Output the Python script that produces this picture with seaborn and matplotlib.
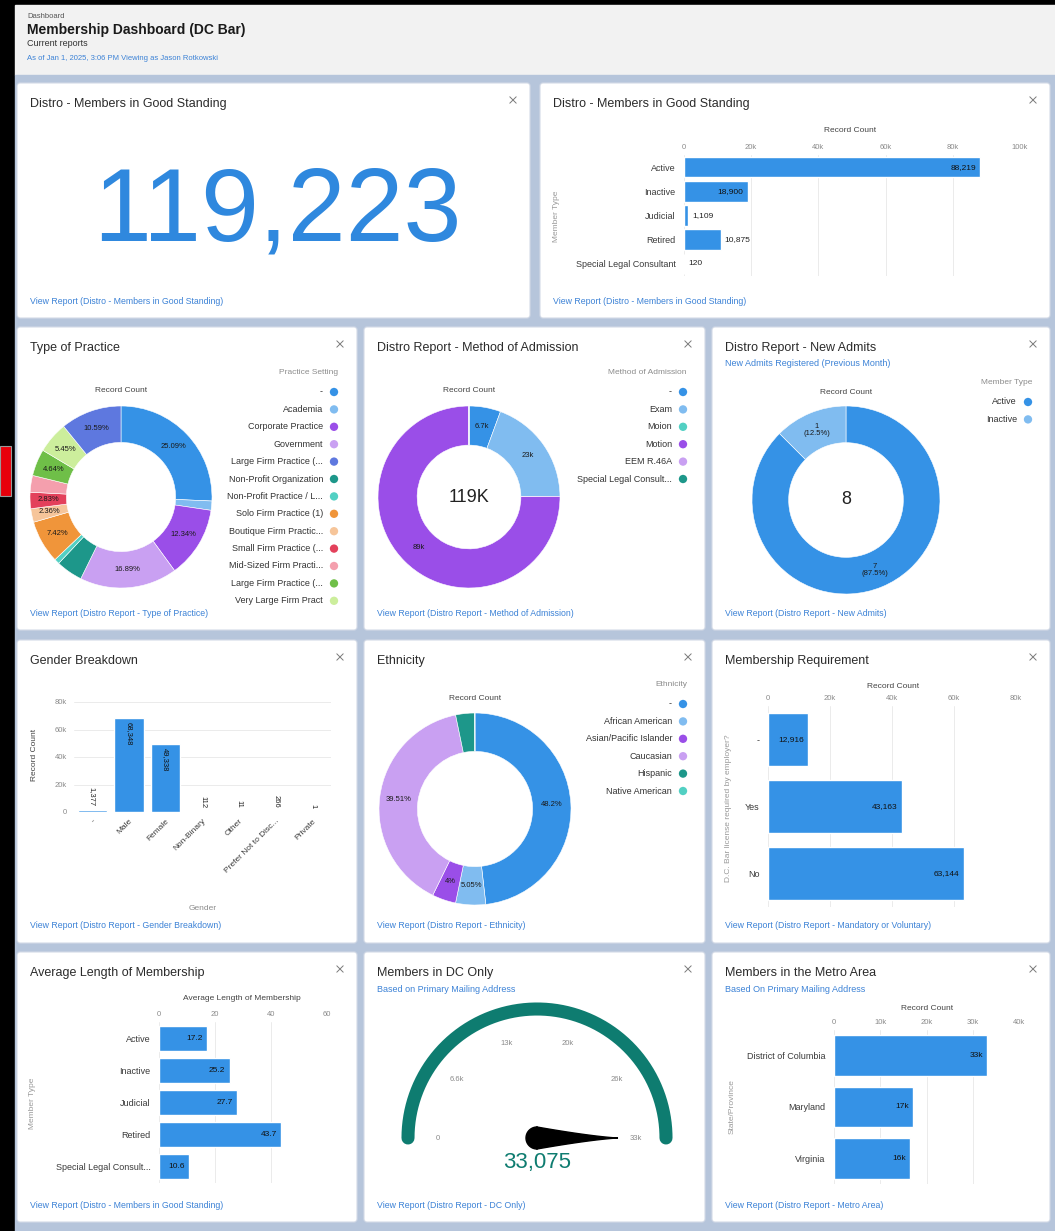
import numpy as np
import matplotlib
matplotlib.use("Agg")
import matplotlib.pyplot as plt
from matplotlib.patches import Rectangle, FancyBboxPatch, Polygon
import seaborn as sns

W, H = 1055, 1231

# ---------------- data ----------------
good_standing_total = 119223

member_types = ["Active", "Inactive", "Judicial", "Retired", "Special Legal Consultant"]
member_counts = [88219, 18900, 1109, 10875, 120]

practice_settings = ["-", "Academia", "Corporate Practice", "Government", "Large Firm Practice (...",
                     "Non-Profit Organization", "Non-Profit Practice / L...", "Solo Firm Practice (1)",
                     "Boutique Firm Practic...", "Small Firm Practice (...", "Mid-Sized Firm Practi...",
                     "Large Firm Practice (...", "Very Large Firm Pract"]
practice_pct = [25.09, 1.6, 12.34, 16.89, 10.59, 4.6, 0.9, 7.42, 2.36, 2.83, 2.9, 4.64, 5.45]
practice_labels = ["25.09%", "", "12.34%", "16.89%", "10.59%", "", "", "7.42%", "2.36%", "2.83%", "",
                   "4.64%", "5.45%"]
practice_pie_order = [0, 1, 2, 3, 5, 6, 7, 8, 9, 10, 11, 12, 4]

admission_methods = ["-", "Exam", "Moion", "Motion", "EEM R.46A", "Special Legal Consult..."]
admission_counts = [6700, 23000, 4, 89500, 12, 7]
admission_labels = ["6.7k", "23k", "", "89k", "", ""]
admission_center = "119K"

new_admit_types = ["Active", "Inactive"]
new_admit_counts = [7, 1]
new_admit_labels = ["7\n(87.5%)", "1\n(12.5%)"]

genders = ["-", "Male", "Female", "Non-Binary", "Other", "Prefer Not to Disc...", "Private"]
gender_counts = [1377, 68348, 49338, 112, 11, 266, 1]

ethnicities = ["-", "African American", "Asian/Pacific Islander", "Caucasian", "Hispanic", "Native American"]
ethnicity_pct = [48.2, 5.05, 4.0, 39.51, 3.2, 0.04]
ethnicity_labels = ["48.2%", "5.05%", "4%", "39.51%", "", ""]

requirement = ["-", "Yes", "No"]
requirement_counts = [12916, 43163, 63144]

avg_types = ["Active", "Inactive", "Judicial", "Retired", "Special Legal Consult..."]
avg_years = [17.2, 25.2, 27.7, 43.7, 10.6]

dc_members = 33075
gauge_max = 33075
gauge_tick_labels = ["0", "6.6k", "13k", "20k", "26k", "33k"]

metro_states = ["District of Columbia", "Maryland", "Virginia"]
metro_counts = [33075, 17100, 16400]
metro_labels = ["33k", "17k", "16k"]

# ---------------- style ----------------
BLUE = "#3592e6"
BIG_BLUE = "#2f88de"
LBLUE = "#80bcf0"
PURPLE = "#9a4ee8"
LPURPLE = "#c9a0f2"
PERI = "#5e78df"
DTEAL = "#1d978a"
LTEAL = "#52d0c3"
TEAL = "#0e7c70"
LINK = "#3c82d6"
GRAY = "#8a8a8a"

practice_colors = [BLUE, LBLUE, PURPLE, LPURPLE, PERI, DTEAL, LTEAL, "#f0953a", "#f6c59a",
                   "#e3415b", "#f49fad", "#6fbf48", "#ccee9c"]
admission_colors = [BLUE, LBLUE, LTEAL, PURPLE, LPURPLE, DTEAL]
ethnicity_colors = [BLUE, LBLUE, PURPLE, LPURPLE, DTEAL, LTEAL]
new_admit_colors = [BLUE, LBLUE]

sns.set_theme(style="white")
plt.rcParams['font.family'] = ['Liberation Sans', 'DejaVu Sans']

fig = plt.figure(figsize=(W / 100, H / 100), dpi=100, facecolor='black')
bg = fig.add_axes([0, 0, 1, 1])
bg.set_xlim(0, W)
bg.set_ylim(H, 0)
bg.axis('off')


def px_axes(x0, y0, x1, y1):
    return fig.add_axes([x0 / W, 1 - y1 / H, (x1 - x0) / W, (y1 - y0) / H])


def txt(x, y, s, size=6, color='#333333', ha='left', va='center', **kw):
    bg.text(x, y, s, fontsize=size, color=color, ha=ha, va=va, **kw)


# background, header
bg.add_patch(Rectangle((0, 0), W, H, color='black'))
bg.add_patch(Rectangle((15, 5), W - 15, 70, color='#f2f2f2'))
bg.add_patch(Rectangle((15, 75), W - 15, H - 75, color='#b6c5db'))
bg.add_patch(Rectangle((0, 446), 11, 50, facecolor='#e8000b', edgecolor='#999999', lw=0.8))

txt(27, 16, "Dashboard", 5.5, '#555555')
txt(27, 30, "Membership Dashboard (DC Bar)", 10, '#1a1a1a', weight='bold')
txt(27, 44, "Current reports", 6.5, '#333333')
txt(27, 59, "As of Jan 1, 2025, 3:06 PM Viewing as Jason Rotkowski", 5.5, LINK)

panels = [(17, 83, 530, 318), (540, 83, 1050, 318),
          (17, 327, 357, 630), (364, 327, 705, 630), (712, 327, 1050, 630),
          (17, 640, 357, 943), (364, 640, 705, 943), (712, 640, 1050, 943),
          (17, 952, 357, 1222), (364, 952, 705, 1222), (712, 952, 1050, 1222)]
panel_titles = ["Distro - Members in Good Standing", "Distro - Members in Good Standing",
                "Type of Practice", "Distro Report - Method of Admission", "Distro Report - New Admits",
                "Gender Breakdown", "Ethnicity", "Membership Requirement",
                "Average Length of Membership", "Members in DC Only", "Members in the Metro Area"]
panel_links = ["View Report (Distro - Members in Good Standing)",
               "View Report (Distro - Members in Good Standing)",
               "View Report (Distro Report - Type of Practice)",
               "View Report (Distro Report - Method of Admission)",
               "View Report (Distro Report - New Admits)",
               "View Report (Distro Report - Gender Breakdown)",
               "View Report (Distro Report - Ethnicity)",
               "View Report (Distro Report - Mandatory or Voluntary)",
               "View Report (Distro - Members in Good Standing)",
               "View Report (Distro Report - DC Only)",
               "View Report (Distro Report - Metro Area)"]
panel_subtitles = {4: "New Admits Registered (Previous Month)",
                   9: "Based on Primary Mailing Address",
                   10: "Based On Primary Mailing Address"}

for i, (x0, y0, x1, y1) in enumerate(panels):
    bg.add_patch(FancyBboxPatch((x0, y0), x1 - x0, y1 - y0, boxstyle="round,pad=0,rounding_size=3",
                                facecolor='white', edgecolor='#d3dae6', lw=0.8))
    txt(x0 + 13, y0 + 21, panel_titles[i], 9, '#2b2b2b')
    txt(x0 + 13, y1 - 17, panel_links[i], 6.3, LINK)
    if i in panel_subtitles:
        txt(x0 + 13, y0 + 37, panel_subtitles[i], 6.5, LINK)
    # expand icon
    cx, cy, s = x1 - 17, y0 + 17, 3.2
    bg.plot([cx - s, cx + s], [cy - s, cy + s], color='#7a7a7a', lw=0.7)
    bg.plot([cx - s, cx + s], [cy + s, cy - s], color='#7a7a7a', lw=0.7)

# ---------- A: big number ----------
txt(277, 240, f"{good_standing_total:,}", 75, BIG_BLUE, ha='center', va='baseline')


# ---------- helpers ----------
def style_hbar(ax, ticks, ticklabels, tick_pad=3):
    ax.set_xlim(ticks[0], ticks[-1])
    ax.set_xticks(ticks)
    ax.set_xticklabels(ticklabels)
    ax.xaxis.tick_top()
    ax.tick_params(axis='x', length=0, pad=tick_pad, labelsize=5.5, labelcolor=GRAY)
    ax.tick_params(axis='y', length=0, pad=6, labelsize=6.5, labelcolor='#3a3a3a')
    ax.grid(axis='x', color='#ebebeb', lw=0.7)
    ax.grid(axis='y', visible=False)
    ax.set_axisbelow(True)
    ax.set_facecolor('none')
    for sp in ax.spines.values():
        sp.set_visible(False)
    ax.set_xlabel('')
    ax.set_ylabel('')


def hbar(rect, cats, vals, ticks, ticklabels, width, labels=None, inside_min=0.15, tick_pad=3):
    ax = px_axes(*rect)
    sns.barplot(x=vals, y=cats, orient='h', color=BLUE, saturation=1, width=width, ax=ax)
    style_hbar(ax, ticks, ticklabels, tick_pad)
    for i, (p, v) in enumerate(zip(ax.patches, vals)):
        s = labels[i] if labels else f"{v:,}"
        yc = p.get_y() + p.get_height() / 2
        if v >= inside_min * ticks[-1]:
            ax.annotate(s, (p.get_width(), yc), xytext=(-3, 0), textcoords='offset points',
                        ha='right', va='center', fontsize=6, color='#111111')
        else:
            ax.annotate(s, (p.get_width(), yc), xytext=(3, 0), textcoords='offset points',
                        ha='left', va='center', fontsize=6, color='#222222')
    return ax


def donut(cx, cy, r, values, colors, ring, labels, order=None):
    ax = px_axes(cx - 1.02 * r, cy - 1.02 * r, cx + 1.02 * r, cy + 1.02 * r)
    idx = order if order is not None else list(range(len(values)))
    wedges, _ = ax.pie([values[k] for k in idx], colors=[colors[k] for k in idx], startangle=90,
                       counterclock=False, wedgeprops=dict(width=ring, edgecolor='white', linewidth=0.4))
    ax.set_xlim(-1.02, 1.02)
    ax.set_ylim(-1.02, 1.02)
    rm = 1 - ring / 2
    for w, k in zip(wedges, idx):
        if labels[k]:
            a = np.deg2rad((w.theta1 + w.theta2) / 2)
            ax.text(rm * np.cos(a), rm * np.sin(a), labels[k], ha='center', va='center',
                    fontsize=5.5, color='#1a1a1a', linespacing=1.0)
    return ax


def pie_legend(title, x_dot, y_title, y0, names, colors, dy=17.4):
    txt(x_dot + 4, y_title, title, 6, '#8c8c8c', ha='right')
    for i, (n, c) in enumerate(zip(names, colors)):
        y = y0 + i * dy
        txt(x_dot - 11, y, n, 6.5, '#333333', ha='right')
        bg.scatter([x_dot], [y], s=36, color=c, edgecolors='none')


# ---------- B: members in good standing bars ----------
hbar((684, 155, 1020, 276), member_types, member_counts,
     [0, 20000, 40000, 60000, 80000, 100000], ["0", "20k", "40k", "60k", "80k", "100k"], 0.85)
txt(850, 130, "Record Count", 6, '#444444', ha='center')
txt(557, 216, "Member Type", 6, '#9a9a9a', ha='center', rotation=90)

# ---------- C: type of practice ----------
donut(121, 497, 91, practice_pct, practice_colors, 0.40, practice_labels, practice_pie_order)
txt(121, 391, "Record Count", 6, '#444444', ha='center')
pie_legend("Practice Setting", 334, 373, 392, practice_settings, practice_colors)

# ---------- D: method of admission ----------
axd = donut(469, 497, 91, admission_counts, admission_colors, 0.43, admission_labels)
axd.text(0, 0, admission_center, ha='center', va='center', fontsize=13, color='#222222')
txt(469, 391, "Record Count", 6, '#444444', ha='center')
pie_legend("Method of Admission", 683, 373, 392, admission_methods, admission_colors)

# ---------- E: new admits ----------
axe = donut(846, 500, 94, new_admit_counts, new_admit_colors, 0.39, new_admit_labels)
axe.text(0, 0, f"{sum(new_admit_counts)}", ha='center', va='center', fontsize=13, color='#222222')
txt(846, 393, "Record Count", 6, '#444444', ha='center')
pie_legend("Member Type", 1028, 382, 402, new_admit_types, new_admit_colors)

# ---------- F: gender ----------
axf = px_axes(74, 702, 331, 812)
sns.barplot(x=genders, y=gender_counts, color=BLUE, saturation=1, width=0.8, ax=axf)
axf.set_ylim(0, 80000)
axf.set_yticks([0, 20000, 40000, 60000, 80000])
axf.set_yticklabels(["0", "20k", "40k", "60k", "80k"])
axf.set_xticks(range(len(genders)))
axf.set_xticklabels(genders, rotation=45, ha='right', rotation_mode='anchor')
axf.tick_params(axis='y', length=0, pad=5, labelsize=5.5, labelcolor=GRAY)
axf.tick_params(axis='x', length=0, pad=4, labelsize=6, labelcolor='#3a3a3a')
axf.grid(axis='y', color='#ebebeb', lw=0.7)
axf.grid(axis='x', visible=False)
axf.set_axisbelow(True)
axf.set_facecolor('none')
for sp in axf.spines.values():
    sp.set_visible(False)
axf.set_xlabel('')
axf.set_ylabel('')
for p, v in zip(axf.patches, gender_counts):
    xc = p.get_x() + p.get_width() / 2
    if v >= 16000:
        axf.annotate(f"{v:,}", (xc, v), xytext=(0, -3), textcoords='offset points', rotation=270,
                     ha='center', va='top', fontsize=5.5, color='#111111')
    else:
        axf.annotate(f"{v:,}", (xc, v), xytext=(0, 3), textcoords='offset points', rotation=270,
                     ha='center', va='bottom', fontsize=5.5, color='#222222')
txt(35, 755, "Record Count", 6, '#444444', ha='center', rotation=90)
txt(203, 908, "Gender", 6, '#8c8c8c', ha='center')

# ---------- G: ethnicity ----------
donut(475, 809, 96, ethnicity_pct, ethnicity_colors, 0.40, ethnicity_labels)
txt(475, 698, "Record Count", 6, '#444444', ha='center')
pie_legend("Ethnicity", 683, 684, 704, ethnicities, ethnicity_colors)

# ---------- H: membership requirement ----------
hbar((768, 706, 1016, 907), requirement, requirement_counts,
     [0, 20000, 40000, 60000, 80000], ["0", "20k", "40k", "60k", "80k"], 0.8)
txt(893, 687, "Record Count", 6, '#444444', ha='center')
txt(728, 808, "D.C. Bar license required by employer?", 6, '#9a9a9a', ha='center', rotation=90)

# ---------- I: average length ----------
hbar((159, 1022, 327, 1183), avg_types, avg_years, [0, 20, 40, 60], ["0", "20", "40", "60"], 0.78,
     labels=[f"{v:.1f}" for v in avg_years])
txt(242, 999, "Average Length of Membership", 6, '#444444', ha='center')
txt(33, 1103, "Member Type", 6, '#9a9a9a', ha='center', rotation=90)

# ---------- J: gauge ----------
axg = px_axes(380, 995, 700, 1190)
axg.set_xlim(380, 700)
axg.set_ylim(1190, 995)
axg.axis('off')
gcx, gcy, gr = 537, 1138, 129
th = np.linspace(np.pi, 0, 300)
axg.plot(gcx + gr * np.cos(th), gcy - gr * np.sin(th), color=TEAL, lw=9.4, solid_capstyle='round')
for v, lab in zip(np.linspace(0, gauge_max, len(gauge_tick_labels)), gauge_tick_labels):
    a = np.pi * (1 - v / gauge_max)
    axg.text(gcx + 99 * np.cos(a), gcy - 99 * np.sin(a), lab, ha='center', va='center',
             fontsize=5.5, color=GRAY)
a = np.pi * (1 - dc_members / gauge_max)
d = np.array([np.cos(a), -np.sin(a)])
n = np.array([np.sin(a), np.cos(a)])
c0 = np.array([gcx, gcy])
back = [c0 + 11 * (np.cos(t) * d + np.sin(t) * n) for t in np.linspace(np.pi / 2, 3 * np.pi / 2, 40)]
t = np.linspace(0, 1, 40)
side1 = [c0 + tt * 81 * d - 11 * (1 - tt) ** 1.3 * n for tt in t]
side2 = [c0 + tt * 81 * d + 11 * (1 - tt) ** 1.3 * n for tt in t[::-1]]
axg.add_patch(Polygon(np.array(back[::-1] + side1 + side2), closed=True, color='black'))
axg.text(gcx, 1168, f"{dc_members:,}", ha='center', va='baseline', fontsize=16, color=TEAL)

# ---------- K: metro area ----------
hbar((834, 1030, 1019, 1184), metro_states, metro_counts,
     [0, 10000, 20000, 30000, 40000], ["0", "10k", "20k", "30k", "40k"], 0.79, labels=metro_labels)
txt(927, 1009, "Record Count", 6, '#444444', ha='center')
txt(732, 1107, "State/Province", 6, '#9a9a9a', ha='center', rotation=90)

fig.savefig("out.png", dpi=100, facecolor='black')
